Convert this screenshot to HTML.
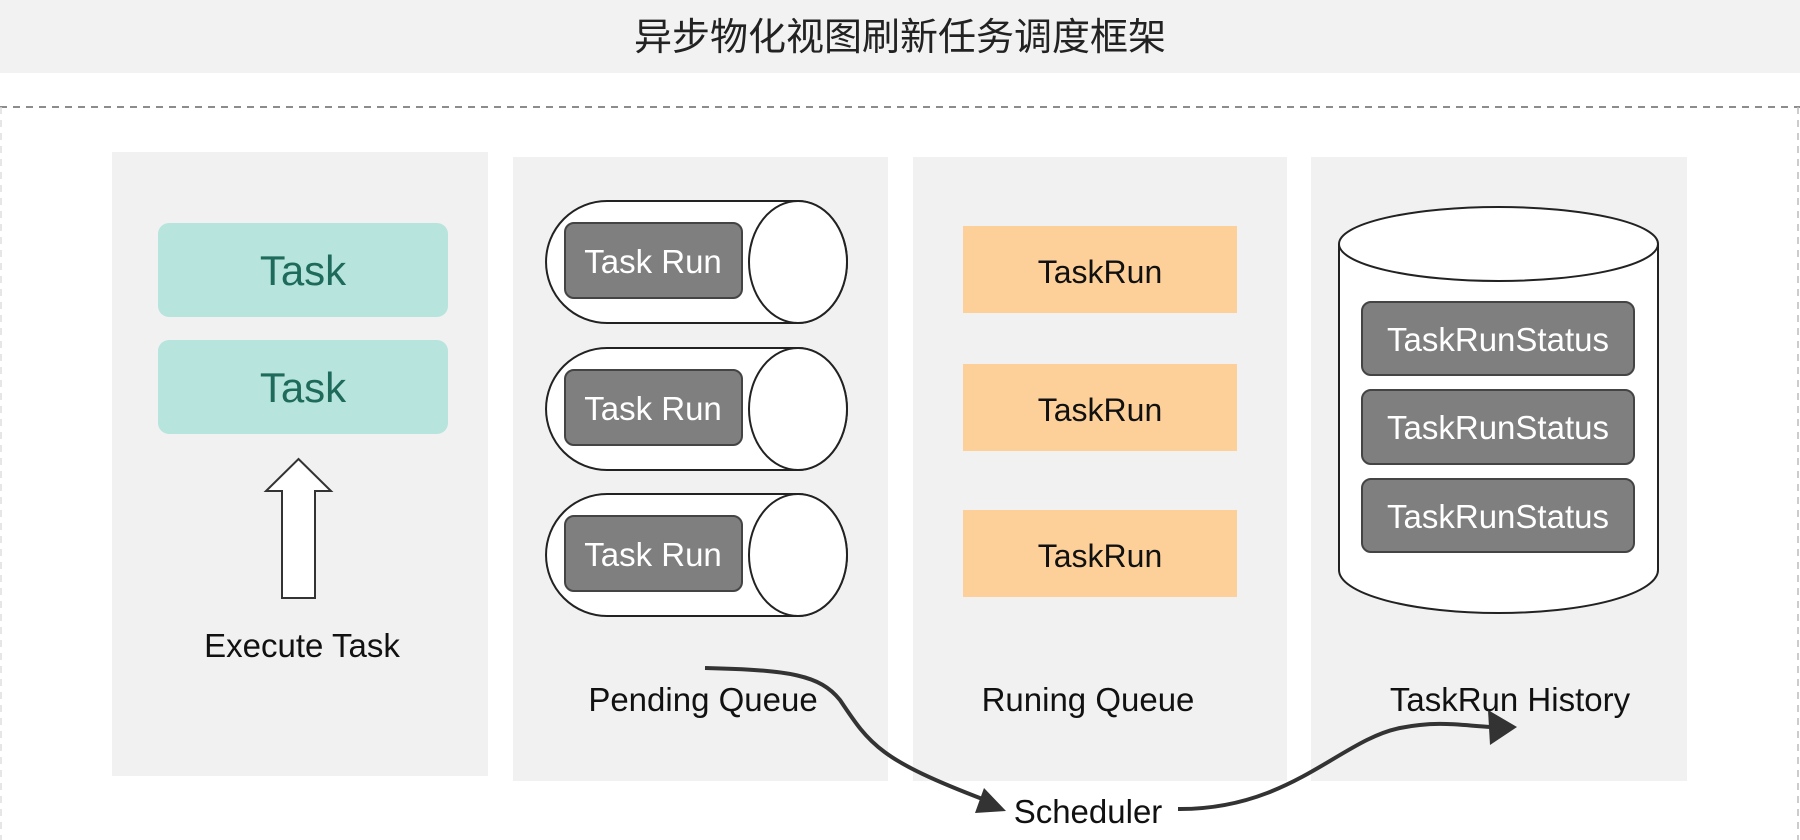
<!DOCTYPE html>
<html><head><meta charset="utf-8"><style>
html,body{margin:0;padding:0;background:#fff;}
body{width:1800px;height:840px;position:relative;overflow:hidden;font-family:"Liberation Sans","Noto Sans CJK SC",sans-serif;}
</style></head><body>
<svg width="1800" height="840" viewBox="0 0 1800 840" xmlns="http://www.w3.org/2000/svg" style="position:absolute;left:0;top:0">
<rect x="0" y="0" width="1800" height="73" fill="#f2f2f2"/>
<text x="900" y="50" font-size="38" text-anchor="middle" fill="#222" font-family="Noto Sans CJK SC, sans-serif">异步物化视图刷新任务调度框架</text>
<line x1="0" y1="107" x2="1800" y2="107" stroke="#666" stroke-width="1.5" stroke-dasharray="7,6"/>
<line x1="1798" y1="107" x2="1798" y2="840" stroke="#bbb" stroke-width="1.5" stroke-dasharray="7,6"/>
<line x1="1" y1="107" x2="1" y2="840" stroke="#ddd" stroke-width="1.5" stroke-dasharray="7,6"/>

<rect x="112" y="152" width="376" height="624" fill="#f1f1f1"/>
<rect x="513" y="157" width="375" height="624" fill="#f1f1f1"/>
<rect x="913" y="157" width="374" height="624" fill="#f1f1f1"/>
<rect x="1311" y="157" width="376" height="624" fill="#f1f1f1"/>

<g font-family="Liberation Sans, sans-serif">
<rect x="158" y="223" width="290" height="94" rx="11" fill="#b7e5dd"/>
<text x="303" y="285" font-size="42" text-anchor="middle" fill="#1f6b5b">Task</text>
<rect x="158" y="340" width="290" height="94" rx="11" fill="#b7e5dd"/>
<text x="303" y="402" font-size="42" text-anchor="middle" fill="#1f6b5b">Task</text>
<polygon points="298.5,459 331,491 315,491 315,598 282,598 282,491 266,491" fill="#fff" stroke="#333" stroke-width="2"/>
<text x="302" y="657" font-size="33" text-anchor="middle" fill="#111">Execute Task</text>

<g id="cyl">
<path d="M607,201 L798,201 A49,61 0 0 1 798,323 L607,323 A61,61 0 0 1 607,201 Z" fill="#fff" stroke="#222" stroke-width="2"/>
<ellipse cx="798" cy="262" rx="49" ry="61" fill="#fff" stroke="#222" stroke-width="2"/>
<rect x="565" y="223" width="177" height="75" rx="9" fill="#7f7f7f" stroke="#444" stroke-width="2"/>
<text x="653" y="273" font-size="33" text-anchor="middle" fill="#fff">Task Run</text>
</g>
<use href="#cyl" y="147"/>
<use href="#cyl" y="293"/>
<text x="703" y="711" font-size="33" text-anchor="middle" fill="#111">Pending Queue</text>

<rect x="963" y="226" width="274" height="87" fill="#fdd09a"/>
<text x="1100" y="283" font-size="32" text-anchor="middle" fill="#111">TaskRun</text>
<rect x="963" y="364" width="274" height="87" fill="#fdd09a"/>
<text x="1100" y="421" font-size="32" text-anchor="middle" fill="#111">TaskRun</text>
<rect x="963" y="510" width="274" height="87" fill="#fdd09a"/>
<text x="1100" y="567" font-size="32" text-anchor="middle" fill="#111">TaskRun</text>
<text x="1088" y="711" font-size="33" text-anchor="middle" fill="#111">Runing Queue</text>

<path d="M1339,244 L1339,570 A159.5,43 0 0 0 1658,570 L1658,244" fill="#fff" stroke="#222" stroke-width="2"/>
<ellipse cx="1498.5" cy="244" rx="159.5" ry="37" fill="#fff" stroke="#222" stroke-width="2"/>
<rect x="1362" y="302" width="272" height="73" rx="9" fill="#7f7f7f" stroke="#444" stroke-width="2"/>
<text x="1498" y="351" font-size="33" text-anchor="middle" fill="#fff">TaskRunStatus</text>
<rect x="1362" y="390" width="272" height="74" rx="9" fill="#7f7f7f" stroke="#444" stroke-width="2"/>
<text x="1498" y="439" font-size="33" text-anchor="middle" fill="#fff">TaskRunStatus</text>
<rect x="1362" y="479" width="272" height="73" rx="9" fill="#7f7f7f" stroke="#444" stroke-width="2"/>
<text x="1498" y="528" font-size="33" text-anchor="middle" fill="#fff">TaskRunStatus</text>
<text x="1510" y="711" font-size="33" text-anchor="middle" fill="#111">TaskRun History</text>

<text x="1088" y="823" font-size="33" text-anchor="middle" fill="#111">Scheduler</text>
</g>

<path d="M705,668 C790,670 820,675 840,700 C870,745 880,760 985,800" fill="none" stroke="#333" stroke-width="4"/>
<polygon points="1006,811 975,813 984,788" fill="#333"/>
<path d="M1178,809 C1290,810 1340,740 1400,728 C1440,720 1465,726 1492,727" fill="none" stroke="#333" stroke-width="4"/>
<polygon points="1517,727 1488,710 1490,745" fill="#333"/>
</svg>
</body></html>
